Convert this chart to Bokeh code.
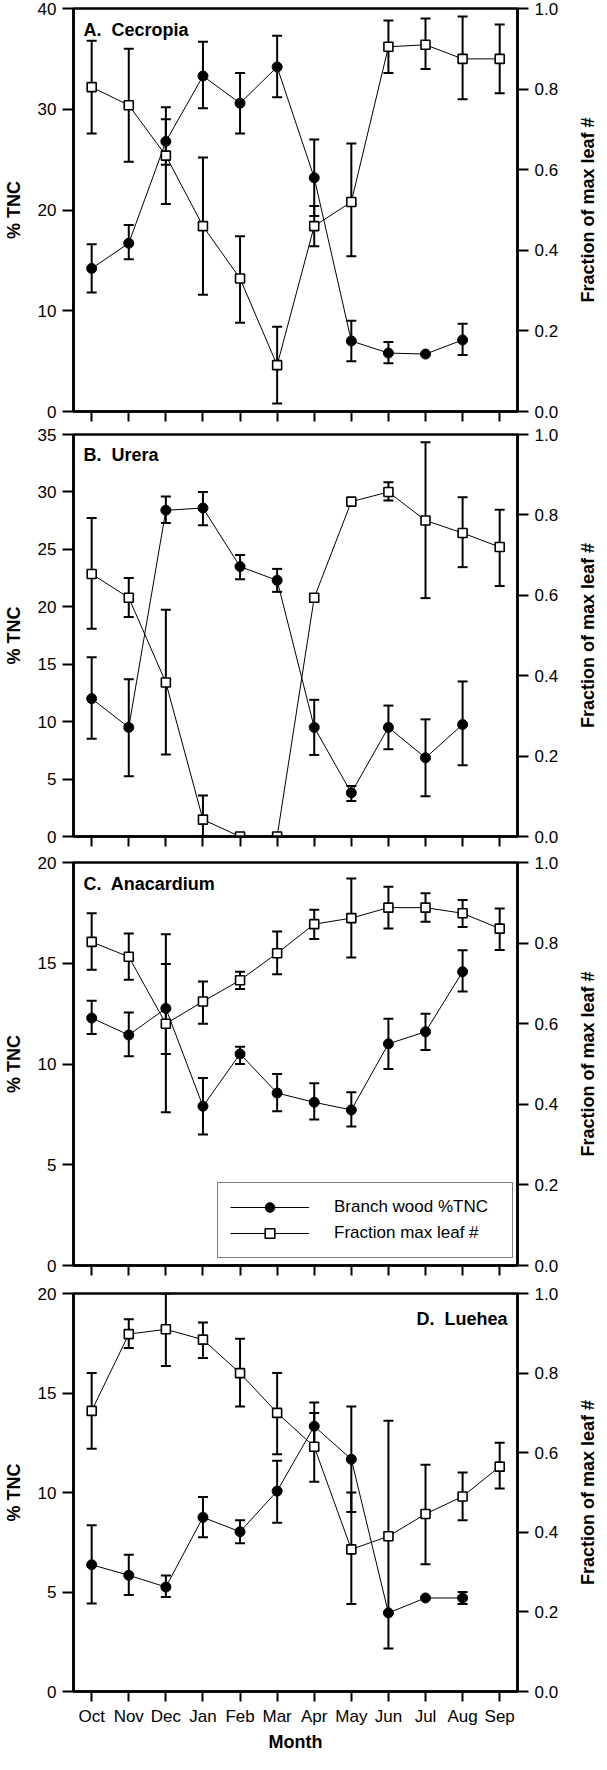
import math
from bokeh.plotting import figure
from bokeh.models import (Range1d, LinearAxis, FixedTicker, Whisker, TeeHead,
                          ColumnDataSource, Label, Legend, LegendItem, PrintfTickFormatter)
from bokeh.layouts import column, row
from bokeh.embed import file_html
from bokeh.resources import INLINE

months = ["Oct", "Nov", "Dec", "Jan", "Feb", "Mar", "Apr", "May", "Jun", "Jul", "Aug", "Sep"]

# Panel A: Cecropia
A_tnc = [14.2, 16.7, 26.8, 33.3, 30.6, 34.2, 23.2, 7.0, 5.8, 5.7, 7.1, None]
A_tnc_lo = [11.8, 15.1, 24.5, 30.1, 27.6, 31.2, 19.4, 5.0, 4.8, None, 5.6, None]
A_tnc_hi = [16.6, 18.5, 30.2, 36.7, 33.6, 37.3, 27.0, 9.0, 6.9, None, 8.7, None]
A_frac = [0.805, 0.76, 0.635, 0.46, 0.33, 0.115, 0.46, 0.52, 0.905, 0.91, 0.875, 0.875]
A_frac_lo = [0.69, 0.62, 0.515, 0.29, 0.22, 0.02, 0.41, 0.385, 0.84, 0.85, 0.775, 0.79]
A_frac_hi = [0.92, 0.90, 0.725, 0.63, 0.435, 0.21, 0.51, 0.665, 0.97, 0.975, 0.98, 0.96]

# Panel B: Urera
B_tnc = [12.0, 9.5, 28.4, 28.6, 23.5, 22.3, 9.5, 3.8, 9.5, 6.85, 9.75, None]
B_tnc_lo = [8.5, 5.25, 27.3, 27.1, 22.4, 21.3, 7.1, 3.1, 7.6, 3.5, 6.2, None]
B_tnc_hi = [15.6, 13.7, 29.6, 30.0, 24.5, 23.3, 11.9, 4.4, 11.4, 10.2, 13.5, None]
B_frac = [0.653, 0.594, 0.383, 0.042, 0.0, 0.0, 0.594, 0.833, 0.857, 0.786, 0.755, 0.72]
B_frac_lo = [0.517, 0.546, 0.204, 0.0, None, None, None, None, 0.836, 0.593, 0.670, 0.623]
B_frac_hi = [0.792, 0.643, 0.564, 0.102, None, None, None, None, 0.881, 0.981, 0.844, 0.813]

# Panel C: Anacardium
C_tnc = [12.28, 11.44, 12.76, 7.9, 10.5, 8.56, 8.1, 7.72, 11.0, 11.6, 14.58, None]
C_tnc_lo = [11.49, 10.38, 10.5, 6.5, 10.0, 7.65, 7.25, 6.9, 9.75, 10.7, 13.6, None]
C_tnc_hi = [13.14, 12.56, 14.96, 9.3, 10.85, 9.5, 9.05, 8.6, 12.25, 12.5, 15.65, None]
C_frac = [0.803, 0.766, 0.60, 0.655, 0.708, 0.775, 0.847, 0.862, 0.888, 0.888, 0.874, 0.836]
C_frac_lo = [0.734, 0.709, 0.38, 0.60, 0.686, 0.723, 0.81, 0.764, 0.836, 0.853, 0.84, 0.783]
C_frac_hi = [0.874, 0.824, 0.822, 0.705, 0.729, 0.829, 0.883, 0.96, 0.94, 0.924, 0.907, 0.886]

# Panel D: Luehea
D_tnc = [6.37, 5.84, 5.25, 8.75, 8.03, 10.07, 13.33, 11.67, 3.95, 4.7, 4.7, None]
D_tnc_lo = [4.42, 4.85, 4.75, 7.75, 7.45, 8.48, 12.15, 9.02, None, None, 4.4, None]
D_tnc_hi = [8.36, 6.87, 5.83, 9.77, 8.6, 11.6, 14.52, 14.32, None, None, 5.0, None]
D_frac = [0.705, 0.898, 0.91, 0.884, 0.80, 0.70, 0.615, 0.357, 0.39, 0.446, 0.49, 0.565]
D_frac_lo = [0.61, 0.863, 0.818, 0.838, 0.716, 0.596, 0.527, 0.22, 0.108, 0.32, 0.43, 0.51]
D_frac_hi = [0.80, 0.935, 1.0, 0.927, 0.886, 0.80, 0.70, 0.50, 0.68, 0.57, 0.55, 0.625]

left_ticks_A = [0, 10, 20, 30, 40]
left_ticks_B = [0, 5, 10, 15, 20, 25, 30, 35]
left_ticks_CD = [0, 5, 10, 15, 20]
right_ticks = [0.0, 0.2, 0.4, 0.6, 0.8, 1.0]

FONT = "Liberation Sans"
XR = (-0.49, 11.48)
PX_PER_MONTH = 445 / (XR[1] - XR[0])
RIGHT_TITLE = "Fraction of max leaf #"
MAIN_W = 576
TITLE_W = 23


def style_axis(ax, tick_out=11):
    ax.axis_line_width = 2.5
    ax.axis_line_color = "black"
    ax.major_tick_line_width = 2
    ax.major_tick_line_color = "black"
    ax.major_tick_out = tick_out
    ax.major_tick_in = 0
    ax.minor_tick_line_color = None
    ax.major_label_text_font = FONT
    ax.major_label_text_font_size = "17px"
    ax.major_label_text_color = "black"
    ax.axis_label_text_font = FONT
    ax.axis_label_text_font_size = "18px"
    ax.axis_label_text_font_style = "bold"
    ax.axis_label_text_color = "black"


def whisk(p, lo, hi, rng=None):
    idx = [i for i in range(len(lo)) if lo[i] is not None]
    src = ColumnDataSource(dict(base=idx, lower=[lo[i] for i in idx],
                                upper=[hi[i] for i in idx]))
    kw = {"y_range_name": rng} if rng else {}
    w = Whisker(source=src, base="base", lower="lower", upper="upper",
                dimension="height", line_width=2, line_color="black",
                upper_head=TeeHead(size=10, line_width=2, line_color="black"),
                lower_head=TeeHead(size=10, line_width=2, line_color="black"),
                **kw)
    p.add_layout(w)


def title_strip(height, top, bottom):
    t = figure(width=TITLE_W, height=height, x_range=Range1d(0, 1), y_range=Range1d(0, 1),
               output_backend="svg", toolbar_location=None,
               x_axis_type=None, y_axis_type=None,
               min_border_left=0, min_border_right=0,
               min_border_top=top, min_border_bottom=bottom)
    t.grid.visible = False
    t.outline_line_color = None
    t.background_fill_color = "white"
    t.border_fill_color = "white"
    t.add_layout(Label(x=0.5, y=0.5, text=RIGHT_TITLE, angle=math.pi / 2,
                       text_align="center", text_baseline="middle",
                       text_font=FONT, text_font_size="18px",
                       text_font_style="bold", text_color="black"))
    return t


def panel(tnc, tlo, thi, frac, flo, fhi, ymax, yticks, title, title_right,
          height, top, bottom, last=False, legend=False):
    p = figure(width=MAIN_W, height=height, x_range=Range1d(*XR),
               y_range=Range1d(0, ymax), output_backend="svg",
               toolbar_location=None, min_border_left=72,
               min_border_right=MAIN_W - 72 - 445,
               min_border_top=top, min_border_bottom=bottom)
    p.extra_y_ranges = {"frac": Range1d(0, 1)}
    p.grid.visible = False
    p.outline_line_color = "black"
    p.outline_line_width = 2.5
    p.outline_line_alpha = 1.0
    p.background_fill_color = "white"
    p.border_fill_color = "white"

    yl = p.yaxis[0]
    yl.ticker = FixedTicker(ticks=yticks)
    style_axis(yl)
    yl.major_label_standoff = 6
    yl.axis_label = "% TNC"
    yl.axis_label_standoff = 11

    yr = LinearAxis(y_range_name="frac", ticker=FixedTicker(ticks=right_ticks),
                    formatter=PrintfTickFormatter(format="%.1f"))
    style_axis(yr)
    yr.major_label_standoff = 6
    p.add_layout(yr, "right")

    xa = p.xaxis[0]
    xa.ticker = FixedTicker(ticks=list(range(len(months))))
    xa.major_label_overrides = {i: m for i, m in enumerate(months)}
    style_axis(xa, tick_out=10)
    if last:
        xa.major_label_standoff = 5
        xa.axis_label = "Month"
        xa.axis_label_standoff = 3
    else:
        xa.major_label_text_font_size = "2px"
        xa.major_label_text_color = None
        xa.major_label_standoff = 0

    whisk(p, tlo, thi)
    whisk(p, flo, fhi, "frac")

    ti = [i for i, v in enumerate(tnc) if v is not None]
    tv = [tnc[i] for i in ti]
    r_cl = p.line(ti, tv, line_width=1, line_color="black")
    r_sl = p.line(list(range(len(frac))), frac, line_width=1, line_color="black",
                  y_range_name="frac")
    r_cs = p.scatter(ti, tv, marker="circle", size=10, fill_color="black",
                     line_color="black")
    r_ss = p.scatter(list(range(len(frac))), frac, marker="square", size=9,
                     fill_color="white", line_color="black", line_width=1.6,
                     y_range_name="frac")

    ypx = ymax / 403.0
    if title_right:
        lab = Label(x=XR[1] - 10 / PX_PER_MONTH, y=ymax - 16 * ypx, text=title,
                    text_align="right", text_baseline="top")
    else:
        lab = Label(x=XR[0] + 10 / PX_PER_MONTH, y=ymax - 11 * ypx, text=title,
                    text_align="left", text_baseline="top")
    lab.text_font = FONT
    lab.text_font_size = "18px"
    lab.text_font_style = "bold"
    lab.text_color = "black"
    p.add_layout(lab)

    if legend:
        lg = Legend(items=[LegendItem(label="Branch wood %TNC", renderers=[r_cl, r_cs]),
                           LegendItem(label="Fraction max leaf #", renderers=[r_sl, r_ss])],
                    location=(144, 7), orientation="vertical")
        lg.glyph_width = 79
        lg.glyph_height = 24
        lg.label_height = 24
        lg.label_width = 166
        lg.label_standoff = 25
        lg.spacing = 2
        lg.padding = 12
        lg.margin = 0
        lg.label_text_font = FONT
        lg.label_text_font_size = "17px"
        lg.label_text_color = "black"
        lg.border_line_color = "black"
        lg.border_line_width = 1.5
        lg.background_fill_alpha = 1.0
        p.add_layout(lg)
    return row(p, title_strip(height, top, bottom), spacing=0)


pA = panel(A_tnc, A_tnc_lo, A_tnc_hi, A_frac, A_frac_lo, A_frac_hi, 40, left_ticks_A,
           "A.\u00a0 Cecropia", False, 423, 8, 12)
pB = panel(B_tnc, B_tnc_lo, B_tnc_hi, B_frac, B_frac_lo, B_frac_hi, 35, left_ticks_B,
           "B.\u00a0 Urera", False, 426, 11, 13)
pC = panel(C_tnc, C_tnc_lo, C_tnc_hi, C_frac, C_frac_lo, C_frac_hi, 20, left_ticks_CD,
           "C.\u00a0 Anacardium", False, 430, 13, 14, legend=True)
pD = panel(D_tnc, D_tnc_lo, D_tnc_hi, D_frac, D_frac_lo, D_frac_hi, 20, left_ticks_CD,
           "D.\u00a0 Luehea", True, 475, 14, 59, last=True)

layout = column(pA, pB, pC, pD, spacing=0)
open("out.html", "w").write(file_html(layout, INLINE))
